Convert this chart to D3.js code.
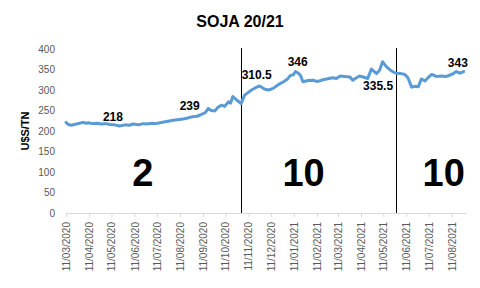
<!DOCTYPE html>
<html><head><meta charset="utf-8">
<script src="https://cdn.jsdelivr.net/npm/d3@7"></script>
<style>html,body{margin:0;padding:0;background:#fff;}svg{display:block;}</style>
</head><body>
<script>
const title = "SOJA 20/21";
const yTitle = "U$S/TN";
const dates = ["2020-03-11","2020-03-14","2020-03-18","2020-03-25","2020-04-03","2020-04-07","2020-04-10","2020-04-15","2020-04-21","2020-04-28","2020-05-03","2020-05-09","2020-05-15","2020-05-22","2020-05-29","2020-06-04","2020-06-09","2020-06-17","2020-06-22","2020-06-27","2020-07-05","2020-07-10","2020-07-15","2020-07-24","2020-08-02","2020-08-10","2020-08-15","2020-08-20","2020-08-28","2020-09-03","2020-09-07","2020-09-14","2020-09-18","2020-09-22","2020-09-27","2020-10-01","2020-10-06","2020-10-10","2020-10-15","2020-10-18","2020-10-21","2020-10-26","2020-11-01","2020-11-06","2020-11-10","2020-11-15","2020-11-20","2020-11-26","2020-12-03","2020-12-08","2020-12-14","2020-12-21","2020-12-28","2021-01-02","2021-01-06","2021-01-10","2021-01-13","2021-01-17","2021-01-20","2021-01-23","2021-01-30","2021-02-06","2021-02-10","2021-02-14","2021-02-19","2021-02-24","2021-03-04","2021-03-09","2021-03-14","2021-03-20","2021-03-27","2021-03-31","2021-04-05","2021-04-09","2021-04-15","2021-04-20","2021-04-25","2021-05-02","2021-05-06","2021-05-10","2021-05-15","2021-05-20","2021-05-25","2021-05-29","2021-06-04","2021-06-09","2021-06-13","2021-06-18","2021-06-23","2021-06-27","2021-07-01","2021-07-06","2021-07-10","2021-07-15","2021-07-21","2021-07-28","2021-08-04","2021-08-12","2021-08-17","2021-08-22","2021-08-27"];
const prices = [221,216,214,217,221,219,220,218,219,217,218,216,215,212,215,214,217,215,218,217,219,218,220,223,226,228,229,231,235,236,239,245,255,250,249,258,263,260,271,268,284,276,267,288,293,300,305,310,302,300,304,313,320,326,335,337,345,341,335,320,323,324,321,322,325,327,330,328,334,333,332,324,330,334,331,328,351,340,348,369,357,349,343,341,340,338,330,307,309,308,327,322,330,338,333,334,333,339,345,341,345];
const xTickDates = ["2020-03-11","2020-04-11","2020-05-11","2020-06-11","2020-07-11","2020-08-11","2020-09-11","2020-10-11","2020-11-11","2020-12-11","2021-01-11","2021-02-11","2021-03-11","2021-04-11","2021-05-11","2021-06-11","2021-07-11","2021-08-11"];
const yTicks = [0,50,100,150,200,250,300,350,400];
const dividerDates = ["2020-11-01","2021-05-28"];
const annoText = ["218","239","310.5","346","335.5","343"];
const annoDates = ["2020-05-13","2020-08-24","2020-11-22","2021-01-16","2021-05-04","2021-08-19"];
const annoValues = [225,251,327,358.5,300,356];
const bigText = ["2","10","10"];
const bigDates = ["2020-06-22","2021-01-24","2021-07-31"];
const bigValues = [66,66,66];

const W = 480, H = 288;
const parse = d3.timeParse("%Y-%m-%d");
const fmt = d3.timeFormat("%d/%m/%Y");
const svg = d3.select("body").append("svg").attr("width", W).attr("height", H);

const x = d3.scaleTime().domain([parse("2020-03-11"), parse("2021-08-30")]).range([66, 466]);
const y = d3.scaleLinear().domain([0, 400]).range([213, 49]);

// title
svg.append("text").attr("x", 240).attr("y", 27).attr("text-anchor", "middle")
  .style("font-family", "'Liberation Sans', Arial, sans-serif").style("font-weight", "bold")
  .style("font-size", "16px").attr("fill", "#000").text(title);

// y axis
const yAxis = svg.append("g").attr("transform", "translate(66,0)")
  .call(d3.axisLeft(y).tickValues(yTicks).tickSize(0).tickPadding(11));
yAxis.select(".domain").remove();
yAxis.selectAll("text").style("font-family", "'Liberation Sans', Arial, sans-serif")
  .style("font-size", "10px").attr("fill", "#595959");

svg.append("text").attr("transform", "translate(29,131) rotate(-90)").attr("text-anchor", "middle")
  .style("font-family", "'Liberation Sans', Arial, sans-serif").style("font-weight", "bold")
  .style("font-size", "11px").attr("fill", "#000").text(yTitle);

// x axis
const xAxis = svg.append("g").attr("transform", "translate(0,213)")
  .call(d3.axisBottom(x).tickValues(xTickDates.map(parse)).tickFormat(fmt).tickSizeInner(4).tickSizeOuter(0));
xAxis.select(".domain").attr("stroke", "#d9d9d9");
xAxis.selectAll(".tick line").attr("stroke", "#d9d9d9");
xAxis.selectAll("text").style("font-family", "'Liberation Sans', Arial, sans-serif")
  .style("font-size", "10px").attr("fill", "#595959")
  .attr("transform", "rotate(-90)").attr("text-anchor", "end")
  .attr("x", -9).attr("y", 0).attr("dy", "0.35em");

// dividers
svg.selectAll("line.div").data(dividerDates).enter().append("line")
  .attr("x1", d => Math.round(x(parse(d))) + 0.5).attr("x2", d => Math.round(x(parse(d))) + 0.5)
  .attr("y1", 48).attr("y2", 213).attr("stroke", "#000").attr("stroke-width", 1);

// line
const data = dates.map((d, i) => ({ d: parse(d), v: prices[i] }));
svg.append("path").datum(data)
  .attr("d", d3.line().x(p => x(p.d)).y(p => y(p.v)))
  .attr("fill", "none").attr("stroke", "#5b9bd5").attr("stroke-width", 3)
  .attr("stroke-linejoin", "round").attr("stroke-linecap", "round");

// annotations
svg.selectAll("text.anno").data(annoText).enter().append("text")
  .attr("x", (t, i) => x(parse(annoDates[i]))).attr("y", (t, i) => y(annoValues[i]))
  .attr("text-anchor", "middle")
  .style("font-family", "'Liberation Sans', Arial, sans-serif").style("font-weight", "bold")
  .style("font-size", "12px").attr("fill", "#000").text(t => t);

// big numbers
svg.selectAll("text.big").data(bigText).enter().append("text")
  .attr("x", (t, i) => x(parse(bigDates[i]))).attr("y", (t, i) => y(bigValues[i]))
  .attr("text-anchor", "middle")
  .style("font-family", "'Liberation Sans', Arial, sans-serif").style("font-weight", "bold")
  .style("font-size", "38px").attr("fill", "#000").text(t => t);
</script>
</body></html>
